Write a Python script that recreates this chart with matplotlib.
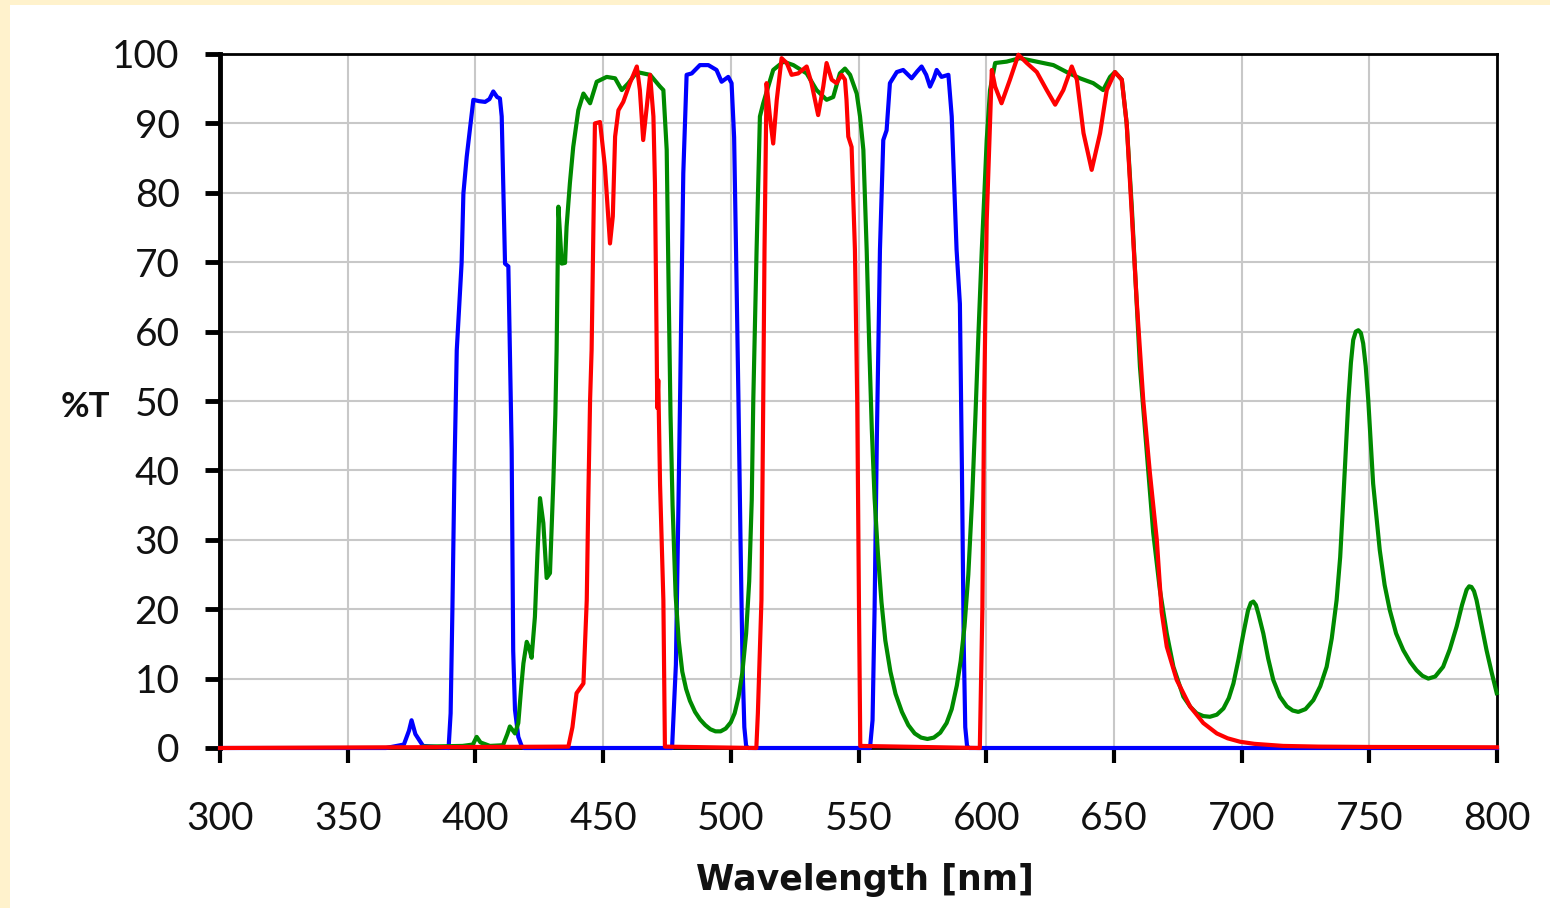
import matplotlib
matplotlib.use("Agg")
import matplotlib.pyplot as plt
from matplotlib.patches import Rectangle

# ---------------- data ----------------
blue_wl = [300, 365, 372, 374, 375, 376.5, 379.5, 389.5, 390.3, 391.0, 391.8, 392.7, 394.6, 395.3,
           396.6, 399.2, 401.5, 403.8, 405.5, 407.0, 408.5, 409.6, 410.3, 411.6, 412.9, 413.5,
           414.2, 414.5, 414.8, 415.5, 416.8, 418.1, 419.0,
           477.0, 478.5, 479.5, 480.2, 480.8, 481.4, 482.7, 484.7, 487.9, 491.2, 494.4, 496.4,
           499.0, 500.3, 501.3, 502.2, 503.0, 503.8, 504.6, 505.3, 506.0, 506.8,
           554.5, 555.5, 556.3, 557.2, 558.4, 559.7, 561.0, 562.3, 565.0, 567.5, 570.8, 573.0,
           574.7, 576.5, 578.0, 579.5, 580.6, 582.5, 585.2, 586.5, 588.4, 589.7, 590.5, 591.2,
           591.8, 592.5, 593.3, 800]
blue_T = [0, 0, 0.5, 2.5, 4.0, 2.0, 0.3, 0, 5, 20, 40, 57.3, 69.9, 79.9,
          85.2, 93.4, 93.2, 93.1, 93.5, 94.6, 93.8, 93.6, 91.0, 69.8, 69.4, 57.3,
          43.0, 28.5, 14.0, 5.5, 1.6, 0.3, 0,
          0, 12, 35, 52, 68, 82.8, 97.0, 97.2, 98.4, 98.4, 97.7, 96.0,
          96.7, 95.8, 88, 68.4, 50, 30, 12, 3, 0.3, 0,
          0, 4, 20, 45, 71.8, 87.6, 89.0, 95.8, 97.4, 97.7, 96.5, 97.5,
          98.2, 97.0, 95.3, 96.5, 97.7, 96.7, 97.0, 91.0, 71.8, 64, 40, 15,
          3, 0.3, 0, 0]

green_wl = [380, 395, 399, 400.5, 402, 405.7, 410.8, 412.5, 413.5, 415.5, 416.8, 418.0, 418.8,
            420.1, 421.0, 422.0, 423.3, 424.3, 425.3, 426.6, 427.9, 429.2, 430.5, 431.3, 431.8,
            432.5, 433.8, 435.1, 435.7, 437.0, 438.3, 440.3, 442.3, 444.9, 447.5, 451.4, 454.7,
            457.3, 459.9, 463.2, 468.4, 472.3, 473.6, 474.9, 475.7, 476.4, 477.2, 478.4, 479.6,
            481.0, 482.5, 484.0, 486.0, 488.0, 490.0, 492.0, 494.0, 496.0, 498.0, 500.0, 501.5,
            503.0, 504.5, 506.0, 507.2, 508.2, 508.8, 510.1, 511.4, 512.7,
            516.6, 520.6, 524.5, 529.7, 533.6, 537.5, 540.1, 542.7, 544.7, 546.7, 549.3, 550.6,
            551.9, 553.2, 554.2, 555.2, 556.3, 557.6, 559.0, 560.5, 562.5, 564.5, 567.0, 569.5,
            572.0, 574.5, 577.0, 579.5, 582.0, 584.5, 586.5, 588.5, 590.0, 591.5, 593.0, 594.5,
            595.8, 597.0, 598.3, 599.3, 600.2, 601.5, 603.5, 608.0, 613.2, 619.8,
            626.3, 631.5, 636.7, 641.9, 645.8, 648.5, 650.4, 653.1, 655.0, 657.0, 660.2, 662.8,
            665.4, 668.0, 670.7, 673.3, 677.2, 680.0, 682.4, 685.0, 687.6, 690.3, 692.9, 695.0,
            696.8, 698.8, 700.7, 702.5, 703.6, 704.6, 705.6, 706.6, 708.5, 710.4, 712.4, 715.0,
            717.7, 720.0, 722.2, 725.0, 728.1, 730.8, 733.3, 735.3, 737.2, 738.6, 739.8, 741.8,
            742.8, 743.7, 744.7, 745.7, 746.7, 747.6, 748.6, 749.6, 751.5, 754.1, 756.0, 758.0,
            760.5, 763.3, 766.0, 768.5, 770.8, 773.1, 775.8, 778.9, 781.5, 784.2, 786.3, 788.1,
            789.1, 790.0, 791.0, 792.0, 794.0, 795.9, 797.9, 799.9]
green_T = [0.2, 0.3, 0.5, 1.6, 0.8, 0.3, 0.4, 2.0, 3.1, 2.1, 3.6, 9.0, 12.2,
           15.3, 14.5, 13.0, 18.9, 28.0, 36.0, 32.4, 24.5, 25.2, 38.2, 48.0, 57.3,
           78.0, 69.8, 69.9, 75.1, 81.4, 86.6, 91.9, 94.3, 92.9, 96.0, 96.7, 96.5,
           94.8, 95.8, 97.4, 97.0, 95.3, 94.8, 86.2, 65.0, 48.0, 35.0, 22.0, 15.5,
           11.0, 8.5, 6.8, 5.2, 4.1, 3.3, 2.7, 2.4, 2.4, 2.8, 3.7, 5.0,
           7.3, 10.8, 16.5, 24.0, 35.7, 50.0, 71.8, 91.0, 92.9,
           97.7, 98.9, 98.4, 97.2, 94.8, 93.4, 93.8, 97.2, 97.9, 97.0, 94.3, 91.0,
           86.2, 71.8, 58.0, 46.0, 36.0, 28.0, 21.0, 15.5, 11.0, 7.8, 5.2, 3.3,
           2.1, 1.5, 1.3, 1.5, 2.2, 3.6, 5.6, 9.0, 12.5, 17.5, 25.0, 36.0,
           48.0, 60.0, 72.0, 80.0, 87.6, 94.8, 98.7, 98.9, 99.4, 98.9,
           98.4, 97.4, 96.5, 95.8, 94.8, 96.7, 97.4, 96.3, 90.0, 78.0, 54.9, 42.9,
           31.0, 22.8, 16.5, 11.7, 7.4, 5.9, 5.0, 4.6, 4.5, 4.8, 5.7, 7.2,
           9.3, 12.8, 16.5, 19.8, 20.9, 21.1, 20.6, 19.3, 16.5, 12.9, 9.8, 7.4,
           6.0, 5.4, 5.2, 5.6, 6.9, 8.9, 11.7, 15.8, 21.3, 27.5, 35.7, 50.1,
           55.5, 58.8, 60.0, 60.2, 59.8, 58.3, 55.0, 50.1, 38.1, 28.5, 23.5, 19.9,
           16.5, 14.1, 12.4, 11.2, 10.4, 10.0, 10.3, 11.7, 14.2, 17.5, 20.6, 22.8,
           23.3, 23.2, 22.6, 21.3, 17.6, 14.1, 10.9, 7.9]

red_wl = [300, 436.4, 438.0, 439.6, 442.3, 443.6, 444.2, 444.9, 445.5, 446.8, 448.8, 450.7, 452.7,
          453.8, 454.7, 456.0, 457.9, 460.5, 463.2, 464.4, 465.7, 467.1, 468.4, 469.7, 470.3,
          471.0, 471.2, 471.6, 472.3, 473.6, 474.2,
          510.0, 510.6, 512.0, 512.7, 513.2, 514.0, 515.3, 516.6, 518.0, 519.9, 521.9, 523.8,
          526.4, 529.7, 531.6, 534.2, 536.2, 537.5, 539.5, 541.4, 543.4, 544.7, 545.3, 546.0,
          547.3, 548.6, 549.5, 550.2, 550.7,
          597.5, 598.5, 599.2, 600.2, 602.2, 603.5, 606.0, 609.3, 612.6, 615.9, 619.8, 623.7,
          627.0, 630.2, 633.5, 635.5, 638.1, 641.3, 644.6, 647.2, 650.4, 653.1, 655.0, 657.0,
          658.9, 661.5, 664.1, 666.8, 668.7, 670.7, 674.6, 679.8, 685.0, 690.3, 694.5, 699.4,
          705.0, 716.3, 730.0, 750.0, 800.0]
red_T = [0, 0.2, 3.0, 7.9, 9.3, 21.3, 35.7, 50.1, 57.3, 90.0, 90.2, 83.8, 72.7,
         76.6, 88.1, 91.9, 93.1, 95.8, 98.2, 94.8, 87.6, 92.4, 97.0, 91.0, 81.4,
         57.0, 49.0, 53.0, 38.0, 21.3, 0.2,
         0, 5.0, 21.3, 50.0, 71.8, 95.8, 91.0, 87.1, 93.4, 99.4, 98.7, 97.0,
         97.2, 98.2, 95.8, 91.2, 95.3, 98.7, 96.3, 95.8, 97.0, 96.3, 93.4, 88.1,
         86.6, 71.8, 50.0, 20.0, 0.3,
         0, 20.0, 50.0, 76.0, 97.7, 95.3, 92.9, 96.3, 99.9, 98.7, 97.4, 94.8,
         92.7, 94.8, 98.2, 96.3, 88.6, 83.3, 88.6, 94.8, 97.4, 96.3, 90.0, 77.0,
         64.6, 50.1, 39.6, 30.0, 19.6, 14.6, 9.8, 6.0, 3.6, 2.1, 1.4, 0.9,
         0.6, 0.3, 0.2, 0.15, 0.1]

x_ticks = [300, 350, 400, 450, 500, 550, 600, 650, 700, 750, 800]
y_ticks = [0, 10, 20, 30, 40, 50, 60, 70, 80, 90, 100]

# ---------------- figure ----------------
W, H = 1550, 908
fig = plt.figure(figsize=(W / 100, H / 100), dpi=100)
fig.patch.set_facecolor('#FFF2CC')
fig.patches.append(Rectangle((10 / W, 0), 1 - 10 / W, 1 - 5 / H,
                             transform=fig.transFigure, facecolor='white',
                             edgecolor='none', zorder=-10))

ax = fig.add_axes([220 / W, (H - 748) / H, (1497 - 220) / W, (748 - 54) / H])
ax.set_zorder(5)
ax.set_facecolor('white')

lw = 3.0
ax.plot(blue_wl, blue_T, color='#0000FF', lw=lw, clip_on=False, zorder=3,
        solid_joinstyle='round')
ax.plot(green_wl, green_T, color='#008A00', lw=lw, clip_on=False, zorder=4,
        solid_joinstyle='round')
ax.plot(red_wl, red_T, color='#FF0000', lw=lw, clip_on=False, zorder=5,
        solid_joinstyle='round')

ax.set_xlim(300, 800)
ax.set_ylim(0, 100)
ax.set_xticks(x_ticks)
ax.set_yticks(y_ticks)
ax.grid(True, color='#C8C8C8', lw=1.5, zorder=0)
ax.set_axisbelow(True)

font = 'Lato'
for lab in ax.get_xticklabels() + ax.get_yticklabels():
    lab.set_fontfamily(font)
    lab.set_color('#111111')

ax.tick_params(axis='y', direction='out', length=11, width=3.5, pad=18, labelsize=28)
ax.tick_params(axis='x', direction='out', length=11, width=3, pad=27, labelsize=28)

ax.spines['left'].set_linewidth(3.5)
ax.spines['top'].set_linewidth(2)
ax.spines['right'].set_linewidth(2)
ax.spines['bottom'].set_linewidth(2)
for s in ax.spines.values():
    s.set_color('black')

fig.text(85 / W, 1 - 407 / H, '%T', fontsize=25, fontweight='bold', family=font,
         ha='center', va='center', color='#111111')
fig.text(865 / W, 1 - 880 / H, 'Wavelength [nm]', fontsize=25, fontweight='bold',
         family='DejaVu Sans', ha='center', va='center', color='#111111')

fig.savefig('out.png', dpi=100, facecolor=fig.get_facecolor())
